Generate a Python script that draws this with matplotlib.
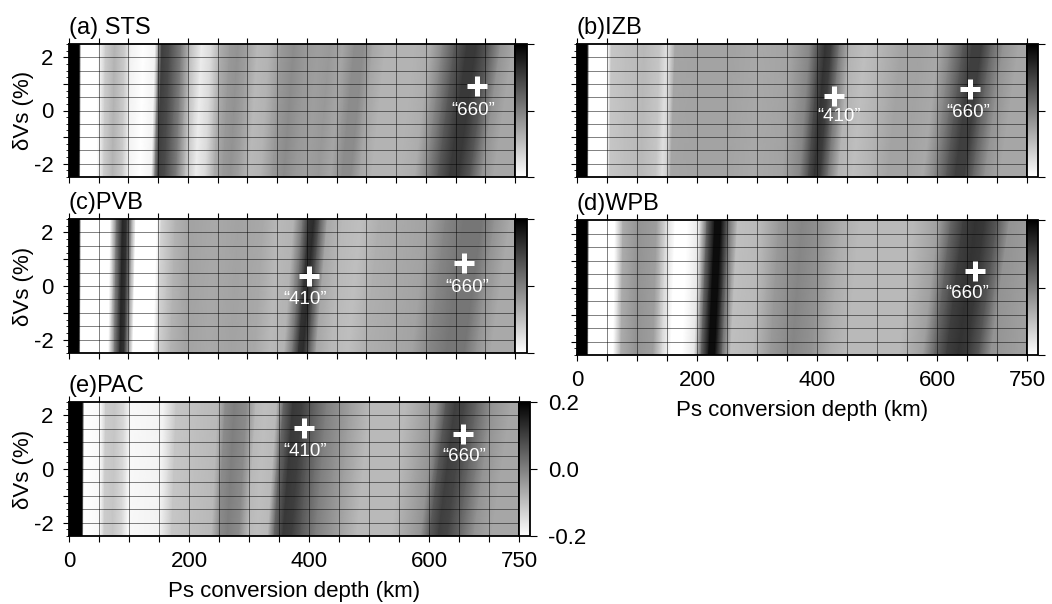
import numpy as np
import matplotlib.pyplot as plt

plt.rcParams['font.family'] = ['Liberation Sans', 'DejaVu Sans']
plt.rcParams['axes.unicode_minus'] = False

# stacked receiver function amplitude vs Ps conversion depth (km), read at dVs = 0
sts_depth = [0, 17, 20, 48, 60, 75, 92, 102, 122, 142, 148, 153, 165, 185, 200, 218, 235, 250, 265, 278,
             292, 310, 330, 350, 370, 390, 410, 430, 450, 470, 485, 500, 520, 545, 570, 595, 615, 635, 655, 670,
             690, 710, 730, 750, 780]
sts_amp = [0.5, 0.5, -0.22, -0.2, -0.12, -0.08, -0.12, -0.18, -0.21, -0.18, 0.0, 0.1, 0.08, 0.0, -0.1, -0.17, -0.14, -0.07, -0.04, -0.03,
           -0.05, -0.09, -0.08, -0.04, -0.02, -0.04, -0.05, -0.04, -0.06, -0.02, -0.02, -0.06, -0.08, -0.08, -0.08, -0.07, -0.01, 0.06, 0.11, 0.11,
           0.06, -0.03, -0.06, -0.06, -0.06]

izb_depth = [0, 17, 20, 50, 56, 80, 110, 135, 145, 152, 160, 200, 250, 300, 350, 380, 395, 405, 415, 428,
             445, 470, 500, 530, 560, 590, 610, 630, 645, 660, 675, 695, 720, 750, 780]
izb_amp = [0.5, 0.5, -0.22, -0.2, -0.11, -0.1, -0.09, -0.11, -0.15, -0.13, -0.06, -0.055, -0.055, -0.065, -0.055, -0.01, 0.08, 0.12, 0.1, 0.01,
           -0.08, -0.1, -0.08, -0.055, -0.055, -0.065, -0.01, 0.06, 0.1, 0.1, 0.04, -0.03, -0.06, -0.06, -0.06]

pvb_depth = [0, 17, 20, 68, 78, 88, 95, 104, 110, 145, 152, 175, 200, 240, 280, 320, 345, 370, 385, 395,
             403, 412, 425, 450, 480, 510, 550, 590, 620, 650, 680, 700, 725, 750, 780]
pvb_amp = [0.5, 0.5, -0.22, -0.2, 0.0, 0.14, 0.12, -0.08, -0.2, -0.2, -0.13, -0.08, -0.055, -0.065, -0.055, -0.065, -0.09, -0.08, 0.02, 0.12,
           0.13, 0.06, -0.06, -0.09, -0.1, -0.075, -0.065, -0.055, -0.01, 0.015, 0.015, -0.03, -0.065, -0.065, -0.065]

wpb_depth = [0, 17, 20, 62, 75, 100, 130, 145, 160, 180, 200, 212, 225, 235, 248, 262, 300, 330, 367, 400,
             430, 460, 500, 550, 590, 610, 630, 650, 665, 685, 705, 750, 780]
wpb_amp = [0.5, 0.5, -0.22, -0.2, -0.07, -0.03, -0.05, -0.14, -0.2, -0.2, -0.16, 0.04, 0.18, 0.18, 0.02, -0.1, -0.09, -0.04, -0.01, -0.03,
           -0.07, -0.09, -0.09, -0.09, -0.05, 0.04, 0.1, 0.12, 0.11, 0.06, -0.03, -0.05, -0.05]

pac_depth = [0, 22, 25, 52, 60, 75, 90, 100, 154, 175, 210, 243, 255, 270, 290, 305, 320, 339, 350, 365,
             380, 395, 420, 458, 490, 550, 600, 615, 630, 645, 665, 690, 720, 750, 780]
pac_amp = [0.5, 0.5, -0.22, -0.19, -0.12, -0.11, -0.14, -0.19, -0.18, -0.11, -0.1, -0.09, -0.02, 0.0, -0.02, -0.09, -0.1, -0.09, 0.04, 0.11,
           0.1, 0.06, 0.0, -0.05, -0.09, -0.09, -0.03, 0.06, 0.1, 0.09, 0.04, -0.03, -0.06, -0.06, -0.06]

# picked discontinuities: (name, depth, dVs) of the cross, (depth, dVs) of its label
sts_picks = [('660', 686, 0.92, 679, 0.0)]
izb_picks = [('410', 429, 0.56, 437, -0.21), ('660', 655, 0.80, 652, -0.06)]
pvb_picks = [('410', 404, 0.39, 397, -0.49), ('660', 665, 0.87, 669, -0.04)]
wpb_picks = [('660', 664, 0.61, 651, -0.22)]
pac_picks = [('410', 391, 1.54, 393, 0.67), ('660', 657, 1.29, 659, 0.45)]

slant = 0.009  # relative depth shift per % dVs

W, H = 1052, 604
fig = plt.figure(figsize=(W / 100, H / 100), dpi=100)


def px_axes(x0, y0, x1, y1):
    return fig.add_axes([x0 / W, 1 - y1 / H, (x1 - x0) / W, (y1 - y0) / H])


def draw_panel(box, cbw, depth, amp, picks, title, xlab=False, ylab=False, cblab=False):
    x0, y0, x1, y1 = box
    ax = px_axes(x0, y0, x1, y1)
    cax = px_axes(x1, y0, x1 + cbw, y1)
    h = y1 - y0

    depth = np.asarray(depth, float)
    dvs = np.array([-2.5, 2.5])
    X = depth[None, :] * (1 + slant * dvs[:, None])
    Y = np.repeat(dvs[:, None], len(depth), axis=1)
    C = np.repeat(np.asarray(amp, float)[None, :], 2, axis=0)
    mesh = ax.pcolormesh(X, Y, C, shading='gouraud', cmap='gray_r', vmin=-0.2, vmax=0.2)
    ax.set_xlim(0, 750)
    ax.set_ylim(-2.5, 2.5)

    for x in range(50, 750, 50):
        ax.axvline(x, color='black', lw=0.7, alpha=0.5)
    for y in np.arange(-2.0, 2.01, 0.5):
        ax.axhline(y, color='black', lw=0.7, alpha=0.5)

    for name, d, v, td, tv in picks:
        ax.plot(d, v, marker='+', color='white', ms=14, mew=3.6, ls='none')
        ax.text(td, tv, '\u201c' + name + '\u201d', color='white', fontsize=13.5,
                ha='center', va='center')

    xt = list(range(0, 751, 50))
    xl = [str(t) if (xlab and t in (0, 200, 400, 600, 750)) else '' for t in xt]
    ax.set_xticks(xt, labels=xl)
    ax.set_yticks([-2, -1, 0, 1, 2], labels=['-2', '', '0', '', '2'] if ylab else [''] * 5)
    ax.set_yticks(np.arange(-2.5, 2.51, 0.25), minor=True)
    ax.tick_params(axis='x', which='major', direction='out', top=True, bottom=True,
                   length=4, width=0.8, labelsize=16, pad=7)
    ax.tick_params(axis='y', which='major', direction='out', left=True, right=False,
                   length=4, width=0.8, labelsize=16, pad=7)
    ax.tick_params(axis='y', which='minor', direction='out', left=True, right=False,
                   length=2, width=0.6)
    for s in ax.spines.values():
        s.set_linewidth(1.3)

    ax.text(0, 1 + 10 / h, title, transform=ax.transAxes, fontsize=17, va='baseline', ha='left')
    if ylab:
        ax.set_ylabel('\u03b4Vs (%)', fontsize=16)
        ax.yaxis.set_label_coords(-(x0 - 23) / (x1 - x0), 0.5)
        ax.yaxis.label.set_va('center')
    if xlab:
        ax.set_xlabel('Ps conversion depth (km)', fontsize=16)
        ax.xaxis.set_label_coords(0.5, -56 / h)
        ax.xaxis.label.set_va('center')

    cb = fig.colorbar(mesh, cax=cax, ticks=[-0.2, 0.0, 0.2])
    cb.outline.set_linewidth(1.3)
    cax.tick_params(direction='out', length=5, width=0.8, labelsize=16, pad=8)
    if cblab:
        cax.set_yticklabels(['-0.2', '0.0', '0.2'])
    else:
        cax.set_yticklabels([])
    return ax


draw_panel((69, 44, 515, 177), 12, sts_depth, sts_amp, sts_picks, '(a) STS', ylab=True)
draw_panel((577, 44, 1027, 177), 11, izb_depth, izb_amp, izb_picks, '(b)IZB')
draw_panel((69, 219, 515, 353), 12, pvb_depth, pvb_amp, pvb_picks, '(c)PVB', ylab=True)
draw_panel((577, 220, 1027, 355), 11, wpb_depth, wpb_amp, wpb_picks, '(d)WPB', xlab=True)
draw_panel((69, 402, 519, 536), 11, pac_depth, pac_amp, pac_picks, '(e)PAC', xlab=True, ylab=True, cblab=True)

fig.savefig('out.png', dpi=100)
